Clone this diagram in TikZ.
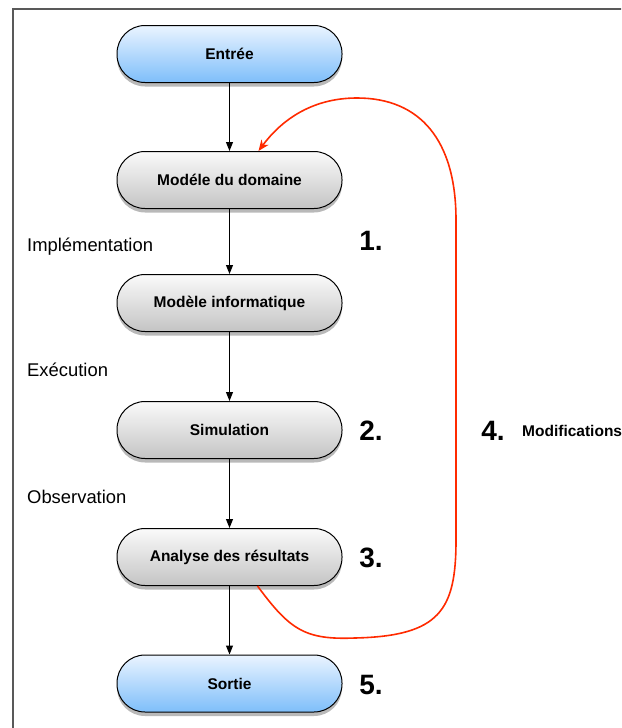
\documentclass[tikz,border=0pt]{standalone}
\usepackage{fontspec}
\setmainfont{Liberation Sans}
\usetikzlibrary{shadows,arrows.meta}
\definecolor{blueTop}{HTML}{EAF4FF}
\definecolor{blueBot}{HTML}{7EBEFA}
\definecolor{grayTop}{HTML}{FAFAFA}
\definecolor{grayBot}{HTML}{C4C4C4}
\definecolor{redline}{HTML}{FF2A00}
\tikzset{
  pill/.style={draw=black, line width=1pt, rounded corners=28pt,
    minimum width=225pt, minimum height=57pt, inner sep=0pt,
    font=\fontsize{15.5}{18}\selectfont\bfseries,
    drop shadow={opacity=0.55, shadow xshift=0pt, shadow yshift=-4pt}},
  bluepill/.style={pill, top color=blueTop, bottom color=blueBot},
  graypill/.style={pill, top color=grayTop, bottom color=grayBot},
  flow/.style={draw=black, line width=1pt, -{Triangle[width=7pt,length=9pt]}},
  lbl/.style={font=\fontsize{18.4}{22}\selectfont, anchor=west, inner sep=0pt},
  num/.style={font=\fontsize{28}{32}\selectfont\bfseries, inner sep=0pt},
  modif/.style={draw=redline, line width=1.6pt, -{Stealth[width=9pt,length=11pt]}}
}
\begin{document}
\begin{tikzpicture}[x=1pt,y=-1pt]
\useasboundingbox (0,0) rectangle (621,728);
\begin{scope}
\clip (0,0) rectangle (621,728);
\draw[line width=2pt, draw=black!65] (13,9) rectangle (660,760);
\end{scope}

\node[bluepill] (entree) at (229.5,54) {Entrée};
\node[graypill] (dom) at (229.5,180) {Modéle du domaine};
\node[graypill] (info) at (229.5,303) {Modèle informatique};
\node[graypill] (sim) at (229.5,430) {Simulation};
\node[graypill] (ana) at (229.5,557) {Analyse des résultats};
\node[bluepill] (sortie) at (229.5,683.5) {Sortie};

\draw[flow] (entree) -- (dom);
\draw[flow] (dom) -- (info);
\draw[flow] (info) -- (sim);
\draw[flow] (sim) -- (ana);
\draw[flow] (ana) -- (sortie);

\node[lbl] (limpl) at (27,247) {Implémentation};
\node[lbl] (lexec) at (27,370) {Exécution};
\node[lbl] (lobs) at (27,497) {Observation};

\node[num] (n1) at (371,241) {1.};
\node[num] (n2) at (371,431) {2.};
\node[num] (n3) at (371,558) {3.};
\node[num] (n5) at (371,685) {5.};
\node[num] (n4) at (493,431) {4.};
\node[font=\fontsize{15.5}{18}\selectfont\bfseries, anchor=west, inner sep=0pt] (lmod) at (522,431) {Modifications};

\draw[modif] (ana.-46) .. controls (290,630) and (305,640) .. (355,638)
  .. controls (440,636) and (456,610) .. (456,540)
  -- (456,220)
  .. controls (456,140) and (420,98) .. (357,98)
  .. controls (310,98) and (280,122) .. (dom.45);
\end{tikzpicture}
\end{document}
